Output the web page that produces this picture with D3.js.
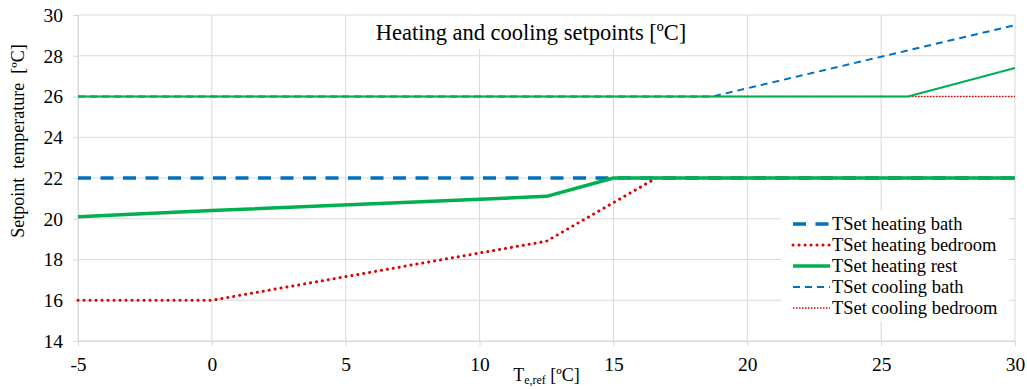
<!DOCTYPE html>
<html>
<head>
<meta charset="utf-8">
<script src="https://cdn.jsdelivr.net/npm/d3@7"></script>
<style>
    body { margin: 0; background: #fff; }
    svg { display: block; font-family: "Liberation Serif", "Times New Roman", serif; }
</style>
</head>
<body>
<svg id="chart"></svg>
<script>
// series data: [Te,ref, setpoint]
const heatingBath = [[-5, 22], [15, 22], [30, 22]];
const heatingBedroom = [[-5, 16], [0, 16], [12.5, 18.9], [16.6, 22], [30, 22]];
const heatingRest = [[-5, 20.1], [0, 20.4], [12.5, 21.1], [15, 22], [30, 22]];
const coolingBath = [[-5, 26], [18.7, 26], [30, 29.5]];
const coolingBedroom = [[-5, 26], [26, 26], [30, 26]];
const coolingRest = [[-5, 26], [26, 26], [30, 27.4]];

const xTicks = [-5, 0, 5, 10, 15, 20, 25, 30];
const yTicks = [14, 16, 18, 20, 22, 24, 26, 28, 30];

const width = 1027;
const height = 389;
const margin = { top: 15, right: 12, bottom: 48, left: 78 };

const svg = d3.select("#chart")
    .attr("width", width)
    .attr("height", height);

const x = d3.scaleLinear().domain([-5, 30]).range([margin.left, width - margin.right]);
const y = d3.scaleLinear().domain([14, 30]).range([height - margin.bottom, margin.top]);

const gridColor = "#d9d9d9";

// gridlines
svg.append("g")
    .selectAll("line")
    .data(yTicks)
    .join("line")
    .attr("x1", x(-5)).attr("x2", x(30))
    .attr("y1", d => y(d)).attr("y2", d => y(d))
    .attr("stroke", gridColor).attr("stroke-width", 1);

svg.append("g")
    .selectAll("line")
    .data(xTicks)
    .join("line")
    .attr("x1", d => x(d)).attr("x2", d => x(d))
    .attr("y1", y(14)).attr("y2", y(30))
    .attr("stroke", gridColor).attr("stroke-width", 1);

// axes (plain hyphen for negatives, like the original)
const xAxis = svg.append("g")
    .attr("transform", `translate(0,${y(14)})`)
    .call(d3.axisBottom(x).tickValues(xTicks).tickSize(5).tickPadding(7).tickFormat(d => String(d)));

const yAxis = svg.append("g")
    .attr("transform", `translate(${x(-5)},0)`)
    .call(d3.axisLeft(y).tickValues(yTicks).tickSize(5).tickPadding(10).tickFormat(d => String(d)));

[xAxis, yAxis].forEach(g => {
    g.select(".domain").attr("stroke", gridColor);
    g.selectAll(".tick line").attr("stroke", gridColor);
    g.selectAll(".tick text")
        .attr("fill", "#000")
        .style("font-family", "Liberation Serif")
        .style("font-size", "19.5px");
});
xAxis.selectAll(".tick text").attr("dy", "0.9em");

const series = [
    { name: "TSet heating bath", data: heatingBath, color: "#0070c0", width: 3.5, dash: "13,9.5", cap: "butt", legend: true },
    { name: "TSet heating bedroom", data: heatingBedroom, color: "#e00000", width: 3, dash: "0.1,5.9", cap: "round", legend: true },
    { name: "TSet heating rest", data: heatingRest, color: "#00b050", width: 3.5, dash: null, cap: "butt", legend: true },
    { name: "TSet cooling bath", data: coolingBath, color: "#0070c0", width: 2, dash: "7,5", cap: "butt", legend: true },
    { name: "TSet cooling bedroom", data: coolingBedroom, color: "#e00000", width: 1.5, dash: "1.5,1.5", cap: "butt", legend: true },
    { name: "TSet cooling rest", data: coolingRest, color: "#00b050", width: 2, dash: null, cap: "butt", legend: false }
];

const line = d3.line().x(d => x(d[0])).y(d => y(d[1]));

svg.append("g")
    .selectAll("path")
    .data(series)
    .join("path")
    .attr("d", d => line(d.data))
    .attr("fill", "none")
    .attr("stroke", d => d.color)
    .attr("stroke-width", d => d.width)
    .attr("stroke-dasharray", d => d.dash)
    .attr("stroke-linecap", d => d.cap)
    .attr("stroke-linejoin", "round");

// title with white box over the grid
svg.append("rect")
    .attr("x", 368).attr("y", 16)
    .attr("width", 326).attr("height", 33)
    .attr("fill", "#fff");

svg.append("text")
    .attr("x", 531).attr("y", 40)
    .attr("text-anchor", "middle")
    .style("font-size", "22.5px")
    .text("Heating and cooling setpoints [ºC]");

// axis titles
svg.append("text")
    .attr("transform", "translate(24,141) rotate(-90)")
    .attr("text-anchor", "middle")
    .style("font-size", "18px")
    .style("white-space", "pre")
    .text("Setpoint  temperature  [ºC]");

const xTitle = svg.append("text")
    .attr("x", x(12.5)).attr("y", 381)
    .attr("text-anchor", "middle")
    .style("font-size", "18px");
xTitle.append("tspan").text("T");
xTitle.append("tspan").attr("dy", 3).style("font-size", "12px").text("e,ref");
xTitle.append("tspan").attr("dy", -3).text(" [ºC]");

// legend
const legendItems = series.filter(s => s.legend);
const legend = svg.append("g");

legend.append("rect")
    .attr("x", 781).attr("y", 211)
    .attr("width", 228).attr("height", 110)
    .attr("fill", "#fff");

const rows = legend.selectAll("g")
    .data(legendItems)
    .join("g")
    .attr("transform", (d, i) => `translate(793,${224 + i * 21})`);

rows.append("line")
    .attr("x1", 0).attr("x2", 37)
    .attr("stroke", d => d.color)
    .attr("stroke-width", d => d.width)
    .attr("stroke-dasharray", d => d.dash)
    .attr("stroke-linecap", d => d.cap);

rows.append("text")
    .attr("x", 39).attr("dy", "0.33em")
    .style("font-size", "18.5px")
    .text(d => d.name);
</script>
</body>
</html>
